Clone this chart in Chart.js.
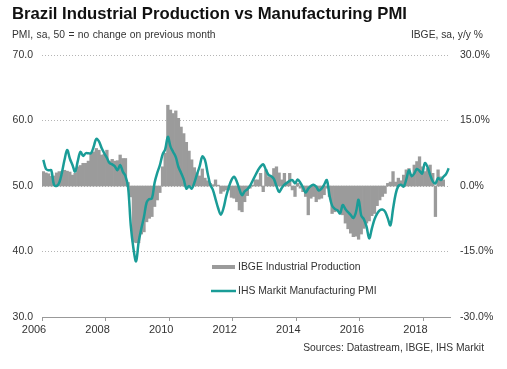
<!DOCTYPE html>
<html>
<head>
<meta charset="utf-8">
<script src="https://cdn.jsdelivr.net/npm/chart.js@4.4.0/dist/chart.umd.min.js"></script>
<style>
  html, body { margin: 0; padding: 0; background: #fff; }
  #wrap { position: relative; width: 507px; height: 369px; font-family: "Liberation Sans", Arial, sans-serif; color: #333; }
  #chart { position: absolute; left: 0; top: 0; }
  .txt { position: absolute; white-space: nowrap; line-height: 1; }
  #title { left: 12px; top: 6px; font-size: 16.7px; font-weight: bold; color: #111; }
  #sub-left { left: 12px; top: 30px; font-size: 10.3px; word-spacing: 0.5px; }
  #sub-right { right: 24px; top: 30px; font-size: 10.3px; }
  #source { right: 23px; top: 343px; font-size: 10.3px; }
</style>
</head>
<body>
<div id="wrap">
  <canvas id="chart" width="507" height="369"></canvas>
  <div class="txt" id="title">Brazil Industrial Production vs Manufacturing PMI</div>
  <div class="txt" id="sub-left">PMI, sa, 50 = no change on previous month</div>
  <div class="txt" id="sub-right">IBGE, sa, y/y %</div>
  <div class="txt" id="source">Sources: Datastream, IBGE, IHS Markit</div>
</div>
<script>
const FONT = "'Liberation Sans', Arial, sans-serif";
const TEXT = "#333";
const TEAL = "#1a9c97";
const GREY = "#9b9b9b";

// monthly, starting Jan 2006
const startYear = 2006;
const yearTicks = [2006, 2008, 2010, 2012, 2014, 2016, 2018];
const pmiTicks = [30, 40, 50, 60, 70];
const ipTicks = [-30, -15, 0, 15, 30];

// IHS Markit Brazil Manufacturing PMI (Jan 2006 - Oct 2018)
const pmi = [
  54.0, 52.6, 52.4, 52.4, 50.2, 50.0, 50.5, 52.0, 54.0, 55.5, 54.2, 53.2,
  52.2, 53.8, 55.2, 54.6, 55.0, 55.0, 55.0, 56.0, 57.2, 56.8, 55.8, 55.0,
  54.3, 53.5, 53.3, 53.0, 52.4, 53.2, 52.2, 51.5, 49.8, 44.0, 40.5, 38.5,
  41.5, 43.5, 45.3, 47.5, 48.0, 48.1, 50.5, 52.0, 53.2, 54.8, 55.6, 57.5,
  56.0, 55.2, 54.4, 52.9, 52.0, 51.0, 49.6, 50.0, 49.6, 50.5, 51.8, 53.0,
  54.5, 54.0, 52.0, 50.2, 49.4, 48.0, 46.6, 45.6, 46.6, 48.4, 49.8, 50.9,
  51.4, 50.7, 49.5, 48.6, 49.2, 49.5, 50.0, 50.8, 51.6, 52.4, 53.0, 53.3,
  52.5, 51.7, 51.5, 51.1, 50.0, 49.1, 49.7, 50.2, 50.5, 50.8, 50.9, 50.4,
  51.0, 50.5, 49.8, 49.0, 49.6, 50.0, 50.2, 49.9, 49.3, 49.6, 50.2, 50.9,
  48.6, 47.0, 46.5, 46.3, 45.8, 47.1, 46.5, 46.0, 45.6, 45.1, 46.0, 47.9,
  45.5, 44.9, 43.8, 42.0, 43.5, 44.9, 45.8, 46.3, 46.4, 46.1, 45.1, 44.0,
  46.5, 48.8, 50.0, 50.2, 49.9, 51.0, 52.4, 51.5, 51.9, 52.6, 52.3, 51.9,
  53.5, 52.9, 51.7, 50.7, 50.4, 51.2, 50.9, 51.4, 51.8, 52.7
];

// IBGE industrial production, y/y % (Jan 2006 - Aug 2018)
const ipYoY = [
  3.3, 3.0, 2.8, 2.2, 2.3, 3.0, 3.3, 3.3, 3.6, 3.4, 3.2, 2.5,
  2.9, 4.4, 4.7, 5.2, 5.2, 5.7, 7.5, 7.8, 8.6, 8.2, 7.1, 7.3,
  8.2, 5.7, 6.1, 5.7, 5.8, 7.1, 6.3, 6.3, 0.8, -2.5, -12.8, -13.0,
  -13.0, -11.0, -10.5, -8.2, -7.4, -7.0, -4.7, -3.2, -1.5, 4.4, 7.5, 18.5,
  17.4, 16.6, 17.2, 15.5, 13.5, 12.0, 10.0, 8.0, 6.0, 4.2, 3.0, 2.3,
  3.9, 1.8, 1.2, 0.6, 0.3, 1.4, 0.2, -1.7, -1.2, -0.9, -0.9, -2.6,
  -2.8, -3.6, -5.5, -5.9, -3.6, -2.2, -0.5, 0.2, 1.4, 1.4, 2.9, -1.3,
  3.7, 2.1, 2.1, 4.0, 4.4, 3.0, 1.4, 2.9, 0.9, 2.9, -0.9, -2.4,
  0.6, -0.5, -1.3, -2.4, -6.6, -2.8, -2.4, -3.6, -3.0, -2.8, -2.0, -0.5,
  -2.4, -6.3, -5.9, -5.7, -6.0, -6.6, -8.5, -9.8, -10.8, -11.6, -11.5, -12.2,
  -11.0, -9.7, -8.5, -8.0, -6.8, -6.3, -4.5, -3.2, -2.4, -1.7, 0.6, 0.9,
  3.3, 0.9, 1.8, 1.2, 2.5, 3.7, 4.0, 2.1, 4.8, 5.6, 6.7, 4.4,
  3.3, 4.0, 4.8, 2.9, -7.0, 3.7, 2.1, 1.4
];

// month i -> decimal year at mid-month
function toPoints(values) {
  return values.map((v, i) => ({ x: startYear + (i + 0.5) / 12, y: v }));
}

// legend drawn inside the plot area, below the series
const insideLegend = {
  id: "insideLegend",
  afterDraw(chart) {
    const { ctx, chartArea } = chart;
    const x0 = chartArea.left + 170;
    let y = chartArea.top + 212;
    ctx.save();
    ctx.font = "10.4px " + FONT;
    ctx.textBaseline = "middle";
    const sets = chart.data.datasets.slice().sort((a, b) => b.order - a.order);
    sets.forEach(ds => {
      if (ds.type === "bar") {
        ctx.fillStyle = ds.backgroundColor;
        ctx.fillRect(x0, y - 2, 23, 4);
      } else {
        ctx.strokeStyle = ds.borderColor;
        ctx.lineWidth = 2.5;
        ctx.beginPath();
        ctx.moveTo(x0 - 1, y);
        ctx.lineTo(x0 + 24, y);
        ctx.stroke();
      }
      ctx.fillStyle = TEXT;
      ctx.fillText(ds.label, x0 + 26, y + 0.5);
      y += 24;
    });
    ctx.restore();
  }
};

const ctx = document.getElementById("chart").getContext("2d");
new Chart(ctx, {
  type: "bar",
  data: {
    datasets: [
      {
        type: "bar",
        label: "IBGE Industrial Production",
        data: toPoints(ipYoY),
        yAxisID: "y1",
        backgroundColor: GREY,
        borderWidth: 0,
        barPercentage: 1,
        categoryPercentage: 1,
        order: 1
      },
      {
        type: "line",
        label: "IHS Markit Manufacturing PMI",
        data: toPoints(pmi),
        yAxisID: "y",
        borderColor: TEAL,
        borderWidth: 2.5,
        pointRadius: 0,
        tension: 0.35,
        fill: false,
        order: 0
      }
    ]
  },
  options: {
    responsive: false,
    animation: false,
    layout: { padding: { top: 55, right: 0, bottom: 0, left: 0 } },
    plugins: {
      legend: { display: false },
      tooltip: { enabled: false }
    },
    scales: {
      x: {
        type: "linear",
        min: startYear,
        max: startYear + pmi.length / 12,
        offset: false,
        afterBuildTicks: axis => { axis.ticks = yearTicks.map(v => ({ value: v })); },
        afterFit: axis => { axis.height = 52; },
        grid: { drawOnChartArea: false, drawTicks: true, tickLength: 4, color: "#999", offset: false },
        border: { display: true, color: "#999", width: 1 },
        ticks: {
          font: { size: 11, family: FONT },
          color: TEXT,
          padding: 2,
          labelOffset: -8,
          maxRotation: 0,
          autoSkip: false,
          callback: v => String(v)
        }
      },
      y: {
        position: "left",
        min: 30,
        max: 70,
        afterBuildTicks: axis => { axis.ticks = pmiTicks.map(v => ({ value: v })); },
        afterFit: axis => { axis.width = 42; },
        grid: { color: "#b5b5b5", drawTicks: false, lineWidth: 1 },
        border: { display: false, dash: [1, 2] },
        ticks: {
          font: { size: 10.5, family: FONT },
          color: TEXT,
          padding: 9,
          callback: v => v.toFixed(1)
        }
      },
      y1: {
        position: "right",
        min: -30,
        max: 30,
        afterBuildTicks: axis => { axis.ticks = ipTicks.map(v => ({ value: v })); },
        afterFit: axis => { axis.width = 57; },
        grid: { display: false, drawTicks: false },
        border: { display: false },
        ticks: {
          font: { size: 10.5, family: FONT },
          color: TEXT,
          padding: 10,
          callback: v => v.toFixed(1) + "%"
        }
      }
    }
  },
  plugins: [insideLegend]
});
</script>
</body>
</html>
